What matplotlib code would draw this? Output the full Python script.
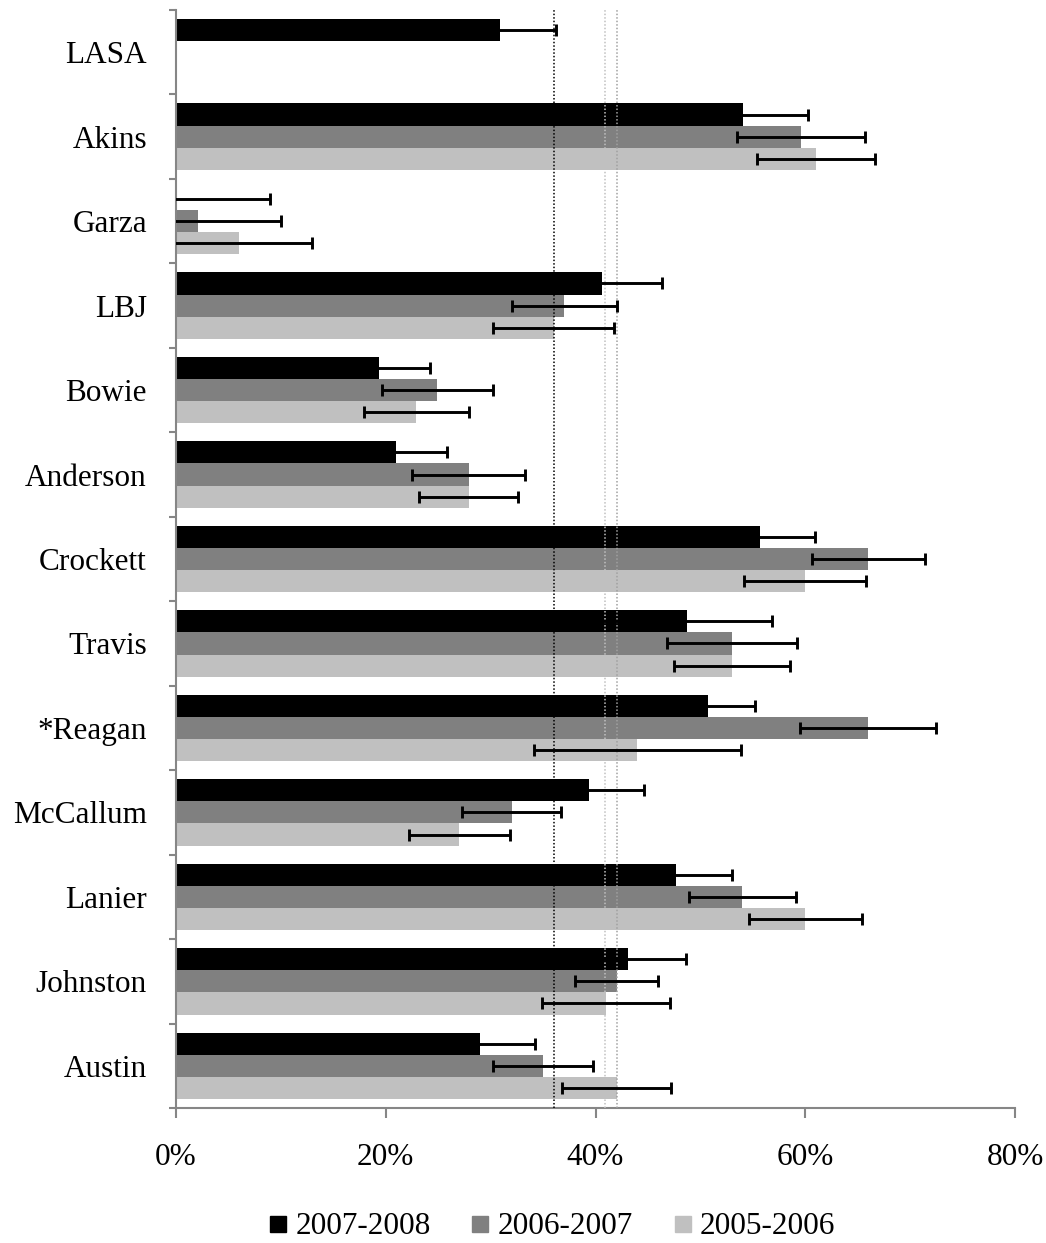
import matplotlib.pyplot as plt
import numpy as np
from matplotlib.lines import Line2D

# --- data (bottom to top) ---
schools = ['Austin', 'Johnston', 'Lanier', 'McCallum', '*Reagan', 'Travis',
           'Crockett', 'Anderson', 'Bowie', 'LBJ', 'Garza', 'Akins', 'LASA']
years = ['2007-2008', '2006-2007', '2005-2006']

val_0708 = [29.0, 43.1, 47.7, 39.4, 50.7, 48.7, 55.7, 21.0, 19.4, 40.6, 0.0, 54.1, 30.9]
err_0708 = [5.2, 5.5, 5.3, 5.2, 4.5, 8.1, 5.2, 4.8, 4.8, 5.7, 9.0, 6.2, 5.3]
val_0607 = [35.0, 42.0, 54.0, 32.0, 66.0, 53.0, 66.0, 27.9, 24.9, 37.0, 2.1, 59.6, np.nan]
err_0607 = [4.8, 4.0, 5.1, 4.7, 6.5, 6.2, 5.4, 5.4, 5.3, 5.0, 7.9, 6.1, np.nan]
val_0506 = [42.0, 41.0, 60.0, 27.0, 44.0, 53.0, 60.0, 27.9, 22.9, 36.0, 6.0, 61.0, np.nan]
err_0506 = [5.2, 6.1, 5.4, 4.8, 9.9, 5.5, 5.8, 4.7, 5.0, 5.8, 7.0, 5.6, np.nan]

ref_lines = [36.0, 40.9, 42.0]

colors = ['#000000', '#808080', '#c0c0c0']
ref_colors = ['#000000', '#c0c0c0', '#a0a0a0']

plt.rcParams['font.family'] = ['Liberation Serif', 'DejaVu Serif']
fs = 22.5

fig = plt.figure(figsize=(10.46, 12.43), dpi=100)
ax = fig.add_axes([0.1683, 0.1086, 0.9704 - 0.1683, 0.992 - 0.1086])

n = len(schools)
y = np.arange(n)
h = 0.262
series = [(val_0708, err_0708), (val_0607, err_0607), (val_0506, err_0506)]
for k, (vals, errs) in enumerate(series):
    ypos = y + (1 - k) * h
    vals = np.array(vals)
    errs = np.array(errs)
    ax.barh(ypos, vals, height=h, color=colors[k], label=years[k], zorder=2)
    ok = ~np.isnan(vals)
    ax.errorbar(vals[ok], ypos[ok], xerr=errs[ok], fmt='none', ecolor='black',
                elinewidth=2.1, capsize=4.5, capthick=2.1, zorder=4)

for xv, c in zip(ref_lines, ref_colors):
    ax.axvline(xv, color=c, linestyle=(0, (1, 1.3)), linewidth=1.1, zorder=3)

ax.set_xlim(0, 80)
ax.set_ylim(-0.5, n - 0.5)
ax.set_xticks([0, 20, 40, 60, 80])
ax.set_xticklabels([f'{v}%' for v in [0, 20, 40, 60, 80]], fontsize=fs)

ax.set_yticks(np.arange(-0.5, n, 1.0))
ax.set_yticklabels([])
ax.set_yticks(y, minor=True)
ax.set_yticklabels(schools, minor=True, fontsize=fs)
ax.tick_params(axis='y', which='major', direction='out', length=5, color='#868686', width=1.5)
ax.tick_params(axis='y', which='minor', length=0, pad=21)
ax.tick_params(axis='x', direction='out', length=7, color='#868686', width=1.5, pad=18)

for side in ['top', 'right']:
    ax.spines[side].set_visible(False)
for side in ['left', 'bottom']:
    ax.spines[side].set_color('#868686')
    ax.spines[side].set_linewidth(1.5)

handles = [Line2D([], [], marker='s', linestyle='none', markersize=11.5,
                  markerfacecolor=c, markeredgecolor=c) for c in colors]
fig.legend(handles, years, loc='center', bbox_to_anchor=(552 / 1046, 1 - 1227 / 1243),
           ncol=3, frameon=False, fontsize=fs, handlelength=0.6,
           handletextpad=0.25, columnspacing=1.3)

fig.savefig('out.png', dpi=100)
